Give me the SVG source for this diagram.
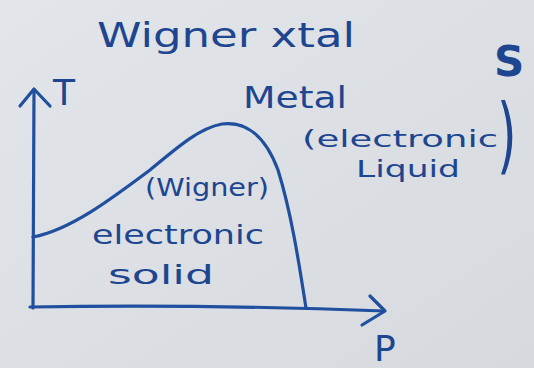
<svg xmlns="http://www.w3.org/2000/svg" width="534" height="368" viewBox="0 0 534 368">
<defs>
<style>
.ink{fill:none;stroke:#1f4f9e;stroke-width:3.2;stroke-linecap:round;stroke-linejoin:round}
.t{fill:#1e4590;font-family:"DejaVu Sans","Liberation Sans",sans-serif}
</style>
<linearGradient id="bg" x1="0" y1="0" x2="1" y2="1">
<stop offset="0" stop-color="#e2e5e9"/>
<stop offset="1" stop-color="#d6dade"/>
</linearGradient>
</defs>
<rect width="534" height="368" fill="url(#bg)"/>
<g id="title"><text class="t" x="97" y="47" font-size="34" textLength="258" lengthAdjust="spacingAndGlyphs">Wigner xtal</text></g>
<g id="mark"><text class="t" x="494" y="76" font-size="42" font-weight="bold">S</text></g>
<g id="connectors">
<path class="ink" d="M33,308 L34,90"/>
<path class="ink" d="M20,106 L34,89 L50,106"/>
<path class="ink" d="M30,307 Q200,304 384,311"/>
<path class="ink" d="M370,296 L385,311 L362,325"/>
<path class="ink" d="M33,237 C70,230 110,200 150,170 C180,145 200,128 222,124 C245,121 265,135 278,170 C292,215 300,270 306,308"/>
</g>
<g id="label-T"><text class="t" x="53" y="105" font-size="36">T</text></g>
<g id="label-P"><text class="t" x="374" y="361" font-size="36">P</text></g>
<g id="metal">
<text class="t" x="243" y="108" font-size="30" textLength="104" lengthAdjust="spacingAndGlyphs">Metal</text>
<text class="t" x="302" y="147" font-size="23" textLength="196" lengthAdjust="spacingAndGlyphs">(electronic</text>
<text class="t" x="356" y="177" font-size="23" textLength="104" lengthAdjust="spacingAndGlyphs">Liquid</text>
<text class="t" x="497" y="164" font-size="84" transform="translate(497 164) scale(0.6 1) translate(-497 -164)">)</text>
</g>
<g id="solid">
<text class="t" x="145" y="196" font-size="25" textLength="124" lengthAdjust="spacingAndGlyphs">(Wigner)</text>
<text class="t" x="92" y="244" font-size="27" textLength="172" lengthAdjust="spacingAndGlyphs">electronic</text>
<text class="t" x="108" y="284" font-size="27" textLength="106" lengthAdjust="spacingAndGlyphs">solid</text>
</g>
</svg>
